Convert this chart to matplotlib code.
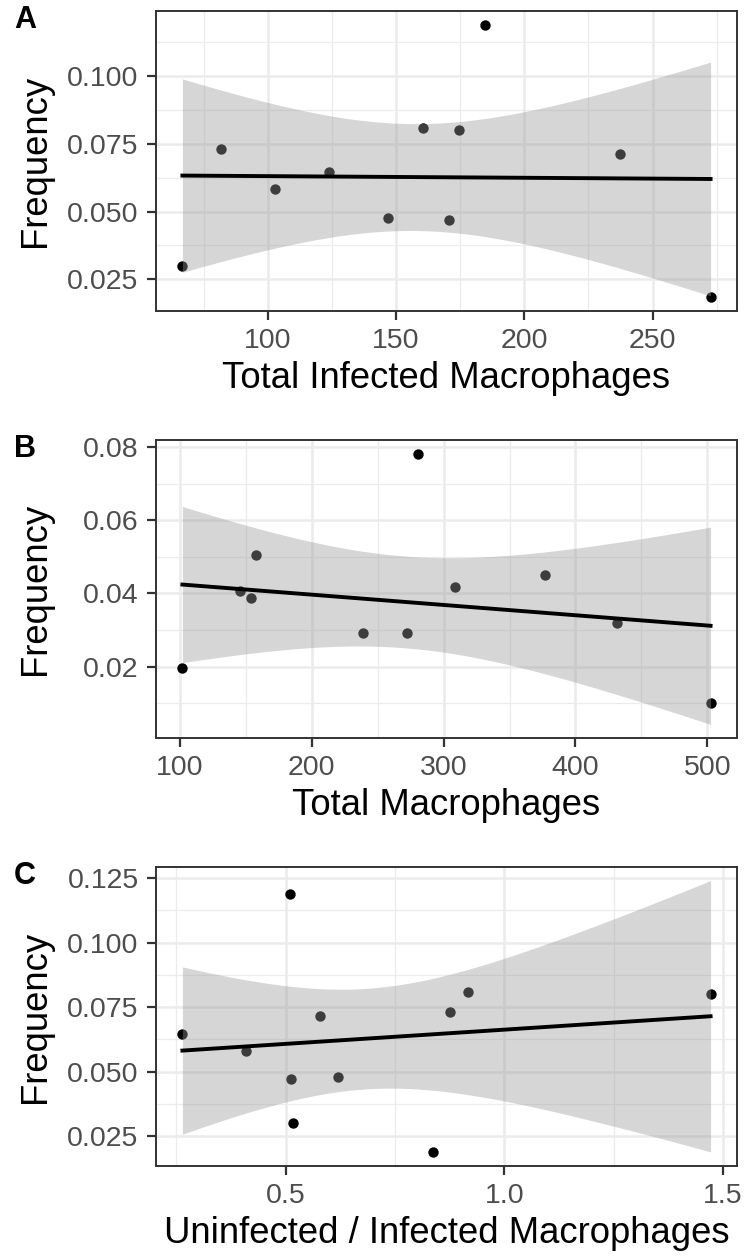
import numpy as np
import matplotlib
matplotlib.use("Agg")
import matplotlib.pyplot as plt
from matplotlib.ticker import MultipleLocator, AutoMinorLocator, FormatStrFormatter

# -------------------------------
# Data
# -------------------------------
# A: frequency vs total infected macrophages
infected_total = [66.7, 81.9, 102.8, 123.7, 146.9, 160.6, 170.7, 174.6, 184.6, 237.4, 272.6]
freq_a = [0.0299, 0.0733, 0.0583, 0.0648, 0.0477, 0.0808, 0.0468, 0.0800, 0.1191, 0.0714, 0.0183]

# B: frequency vs total macrophages
macro_total = [101.8, 145.8, 154.1, 158.0, 238.7, 271.9, 280.9, 308.6, 376.8, 431.5, 502.5]
freq_b = [0.0195, 0.0406, 0.0388, 0.0505, 0.0291, 0.0291, 0.0783, 0.0419, 0.0451, 0.0319, 0.0099]

# C: frequency vs uninfected / infected ratio
uninf_ratio = [0.264, 0.410, 0.511, 0.513, 0.516, 0.578, 0.619, 0.838, 0.875, 0.917, 1.472]
freq_c = [0.0646, 0.0581, 0.1190, 0.0469, 0.0299, 0.0714, 0.0478, 0.0186, 0.0731, 0.0808, 0.0800]

T_CRIT = 2.262  # t(0.975, df = 9), as in geom_smooth(method = "lm")

plt.rcParams['font.family'] = ['Liberation Sans', 'DejaVu Sans']


def lm_band(x, y, n=80):
    x = np.asarray(x)
    y = np.asarray(y)
    slope, icpt = np.polyfit(x, y, 1)
    resid = y - (icpt + slope * x)
    s = np.sqrt(np.sum(resid ** 2) / (len(x) - 2))
    xs = np.linspace(x.min(), x.max(), n)
    fit = icpt + slope * xs
    se = s * np.sqrt(1 / len(x) + (xs - x.mean()) ** 2 / np.sum((x - x.mean()) ** 2))
    return xs, fit, T_CRIT * se


def panel(ax, x, y, xlabel, xstep, ystep, xfmt, yfmt, tag):
    xs, fit, half = lm_band(x, y)
    lo, hi = fit - half, fit + half

    # points first, ribbon over them (like ggplot layer order)
    ax.scatter(x, y, s=56, color="black", zorder=3, linewidths=0)
    ax.fill_between(xs, lo, hi, color="#999999", alpha=0.4, linewidth=0, zorder=4)
    ax.plot(xs, fit, color="black", linewidth=2.8, zorder=5)

    # ggplot style 5% expansion
    xmin, xmax = min(x), max(x)
    ymin, ymax = min(min(y), lo.min()), max(max(y), hi.max())
    dx, dy = (xmax - xmin) * 0.05, (ymax - ymin) * 0.05
    ax.set_xlim(xmin - dx, xmax + dx)
    ax.set_ylim(ymin - dy, ymax + dy)

    ax.xaxis.set_major_locator(MultipleLocator(xstep))
    ax.yaxis.set_major_locator(MultipleLocator(ystep))
    ax.xaxis.set_minor_locator(AutoMinorLocator(2))
    ax.yaxis.set_minor_locator(AutoMinorLocator(2))
    ax.xaxis.set_major_formatter(FormatStrFormatter(xfmt))
    ax.yaxis.set_major_formatter(FormatStrFormatter(yfmt))

    ax.grid(which="major", color="#EBEBEB", linewidth=1.8, zorder=0)
    ax.grid(which="minor", color="#EBEBEB", linewidth=0.9, zorder=0)
    ax.set_axisbelow(True)

    for sp in ax.spines.values():
        sp.set_color("#333333")
        sp.set_linewidth(1.4)

    ax.tick_params(which="major", length=6.5, width=1.6, color="#333333",
                   labelsize=20.5, labelcolor="#4D4D4D", pad=6)
    ax.tick_params(which="minor", length=0)

    ax.set_xlabel(xlabel, fontsize=26.3, labelpad=5)
    ax.set_ylabel("Frequency", fontsize=26.3)
    ax.yaxis.set_label_coords(-0.178, 0.5)

    pos = ax.get_position()
    fig.text(25 / 748, pos.y1 - 9 / 1258, tag, fontsize=22, fontweight="bold",
             ha="center", va="center")


fig = plt.figure(figsize=(7.48, 12.58), dpi=100)

left, width = 156 / 748, 581 / 748
ax_a = fig.add_axes([left, 1 - 311 / 1258, width, 300 / 1258])
ax_b = fig.add_axes([left, 1 - 738 / 1258, width, 298 / 1258])
ax_c = fig.add_axes([left, 1 - 1166 / 1258, width, 299 / 1258])

panel(ax_a, infected_total, freq_a, "Total Infected Macrophages", 50, 0.025, "%d", "%.3f", "A")
panel(ax_b, macro_total, freq_b, "Total Macrophages", 100, 0.02, "%d", "%.2f", "B")
panel(ax_c, uninf_ratio, freq_c, "Uninfected / Infected Macrophages", 0.5, 0.025, "%.1f", "%.3f", "C")

fig.savefig("out.png", dpi=100)
